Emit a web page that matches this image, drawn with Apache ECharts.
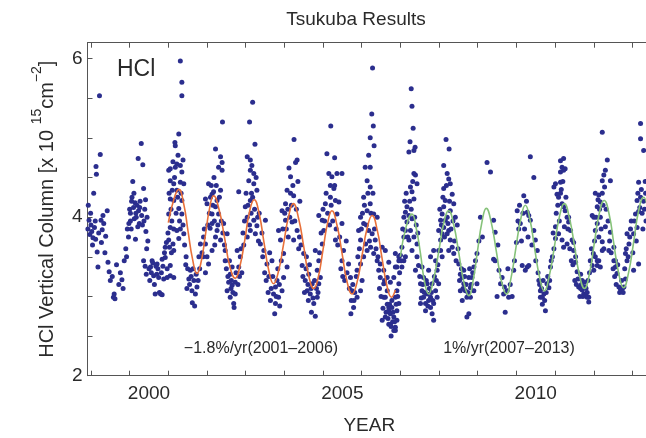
<!DOCTYPE html>
<html>
<head>
<meta charset="utf-8">
<script src="https://cdn.jsdelivr.net/npm/echarts@6/dist/echarts.min.js"></script>
<style>
html,body{margin:0;padding:0;background:#fff;}
#c{width:646px;height:438px;}
</style>
</head>
<body>
<div id="c"></div>
<script>
// ---- Data: [decimal year, HCl column (1e15 cm^-2)] ----
const obs1999 = [[1998.92,3.85],[1998.93,4.15],[1998.95,3.96],[1998.97,3.78],[1999.00,3.90],[1999.02,3.82],[1999.05,3.74],[1999.07,4.30],[1999.09,3.87],[1999.11,3.95],[1999.13,4.64],[1999.14,4.54],[1999.16,3.56],[1999.18,3.37],[1999.20,3.80],[1999.22,5.53],[1999.24,4.79],[1999.26,3.96],[1999.29,3.84],[1999.33,3.92],[1999.38,3.76],[1999.42,4.08],[1999.44,3.43],[1999.47,3.31],[1999.58,2.99],[1999.60,3.03],[1999.62,2.97],[1999.72,3.15],[1999.80,3.21],[1999.86,3.45],[1999.92,3.50],[1999.97,3.75],
  [1998.99,4.05],[1999.04,3.65],[1999.12,3.72],[1999.27,3.68],[1999.31,4.02],[1999.36,3.55],[1999.50,3.20],[1999.55,3.25],[1999.66,3.40],[1999.76,3.30],[1999.83,3.10],[1999.90,3.60],[1999.94,3.85]];
const obs2000 = [[1999.98,3.92],[2000.00,4.10],[2000.02,4.05],[2000.04,3.85],[2000.06,4.25],[2000.08,4.45],[2000.10,4.12],[2000.12,3.98],[2000.14,4.18],[2000.15,3.72],[2000.17,4.00],[2000.19,4.15],[2000.22,4.74],[2000.23,4.08],[2000.25,3.92],[2000.27,4.20],[2000.30,4.93],[2000.31,4.02],[2000.34,4.66],[2000.36,4.36],[2000.37,3.95],[2000.39,4.10],[2000.36,3.45],[2000.40,3.38],[2000.42,3.82],[2000.43,3.28],[2000.45,4.00],[2000.47,3.70],[2000.50,3.35],[2000.54,3.37],[2000.58,3.45],[2000.62,3.26],[2000.66,3.03],[2000.68,3.38],[2000.71,3.41],[2000.75,3.24],[2000.77,3.05],[2000.80,3.03],[2000.84,3.47],[2000.84,3.02],[2000.88,3.22],[2000.92,3.62],[2000.92,3.49],[2000.95,3.68],[2000.97,3.35],[2000.97,3.24],
  [2000.02,3.95],[2000.05,4.20],[2000.11,4.30],[2000.16,4.05],[2000.21,3.88],[2000.26,4.12],[2000.33,3.90],[2000.41,4.22],[2000.44,3.60],[2000.52,3.20],[2000.56,3.30],[2000.60,3.42],[2000.64,3.15],[2000.70,3.28],[2000.73,3.35],[2000.82,3.30],[2000.86,3.38],[2000.90,3.55],[2000.99,3.80]];
const obs2001 = [[2001.01,4.59],[2001.05,4.61],[2001.18,4.63],[2001.22,4.67],[2001.31,4.65],[2001.35,4.57],[2001.05,4.46],[2001.14,4.42],[2001.31,4.44],[2001.40,4.42],[2001.10,4.34],[2001.22,4.34],[2001.05,4.23],[2001.14,4.21],[2001.35,4.21],[2001.27,4.11],[2001.01,4.04],[2001.05,3.87],[2001.14,3.85],[2001.22,3.83],[2001.31,3.85],[2001.35,4.04],[2001.40,3.79],[2001.27,3.73],[2001.01,3.71],[2001.14,3.58],[2001.05,3.39],[2001.14,3.24],[2001.05,3.26],[2001.03,3.62],[2001.08,3.55],[2001.12,3.66],[2001.31,5.97],[2001.35,5.70],[2001.35,5.53],[2001.27,5.05],[2001.17,4.94],[2001.18,4.90],[2001.25,4.78],[2001.12,4.70],[2001.38,4.72],[2001.66,3.20],[2001.74,3.12],[2001.70,3.03],[2001.61,3.07],[2001.48,3.10],[2001.53,3.22],[2001.79,3.50],[2001.83,3.66],[2001.91,3.75],[2001.96,3.66],[2002.00,3.50],[2002.04,3.41],[2001.96,3.30],[2001.45,3.40],[2001.57,3.33],[2001.62,2.92],[2001.68,2.88],
  [2001.02,4.30],[2001.07,4.10],[2001.09,3.95],[2001.16,4.50],[2001.20,4.05],[2001.24,4.25],[2001.29,3.95],[2001.33,4.30],[2001.38,3.90],[2001.42,3.65],[2001.46,3.50],[2001.50,3.35],[2001.55,3.15],[2001.59,3.25],[2001.64,3.35],[2001.72,3.28],[2001.77,3.20],[2001.81,3.35],[2001.87,3.55],[2001.90,3.50],[2001.93,3.85]];
const obs2002 = [[2002.13,4.04],[2002.09,4.25],[2002.13,4.29],[2002.17,4.32],[2002.26,4.21],[2002.22,4.13],[2002.30,4.04],[2002.26,3.83],[2002.22,3.75],[2002.35,3.71],[2002.13,3.92],[2002.13,3.58],[2002.35,4.76],[2002.39,4.69],[2002.30,4.63],[2002.39,4.59],[2001.96,4.23],[2002.00,4.17],[2002.04,4.42],[2002.35,4.34],[2002.43,3.92],[2002.52,3.79],[2002.47,3.58],[2002.47,3.45],[2002.65,3.37],[2002.60,3.28],[2002.56,3.18],[2002.52,3.07],[2002.60,2.99],[2002.69,2.91],[2002.73,3.03],[2002.65,3.14],[2002.73,3.18],[2002.82,3.37],[2002.86,3.50],[2002.78,3.58],[2002.82,4.32],[2002.40,5.20],[2002.22,4.86],[2002.18,4.50],[2002.08,3.86],[2002.20,3.65],[2002.70,2.86],[2002.62,3.10],[2002.90,3.30],[2002.95,3.65],
  [2002.02,3.90],[2002.06,4.05],[2002.11,4.40],[2002.15,4.15],[2002.19,3.95],[2002.24,4.40],[2002.28,3.90],[2002.32,4.25],[2002.37,3.95],[2002.41,3.80],[2002.45,3.65],[2002.50,3.35],[2002.54,3.25],[2002.58,3.45],[2002.63,3.20],[2002.67,3.05],[2002.75,3.30],[2002.80,3.15],[2002.84,3.25],[2002.88,3.60],[2002.93,3.80],[2002.97,3.95]];
const obs2003 = [[2003.04,4.76],[2003.12,4.72],[2003.16,4.65],[2003.12,4.59],[2003.21,4.55],[2003.08,4.46],[2003.21,4.42],[2003.29,4.34],[2003.12,4.21],[2002.99,4.13],[2003.04,4.00],[2003.21,3.96],[2003.29,3.89],[2003.12,3.83],[2003.25,3.79],[2003.04,3.75],[2003.38,3.66],[2003.51,3.96],[2003.47,3.58],[2003.55,3.41],[2003.68,3.45],[2003.81,3.20],[2003.77,3.12],[2003.72,3.03],[2003.77,2.91],[2003.85,2.99],[2003.94,3.07],[2003.98,3.24],[2003.90,3.71],[2003.85,3.83],[2003.94,4.08],[2003.98,3.54],[2003.18,5.45],[2003.10,5.20],[2003.24,4.92],[2003.15,4.30],[2003.35,4.05],[2003.60,3.25],[2003.66,3.10],[2003.75,2.78],[2003.88,2.88],[2003.62,3.55],
  [2003.01,4.30],[2003.06,4.15],[2003.10,3.90],[2003.14,4.05],[2003.18,4.25],[2003.23,4.10],[2003.27,4.50],[2003.31,4.00],[2003.33,3.70],[2003.42,3.80],[2003.44,3.50],[2003.49,3.30],[2003.53,3.20],[2003.58,3.05],[2003.64,2.95],[2003.70,3.25],[2003.79,3.00],[2003.83,3.35],[2003.87,3.15],[2003.92,3.45],[2003.96,3.85]];
const obs2004 = [[2004.07,3.37],[2004.03,4.17],[2004.07,4.34],[2004.16,4.30],[2004.24,4.27],[2004.16,4.51],[2004.33,4.72],[2004.29,4.69],[2004.03,3.96],[2004.20,3.94],[2004.33,3.83],[2004.24,3.71],[2004.37,3.60],[2004.50,3.54],[2004.46,3.39],[2004.63,3.28],[2004.54,3.20],[2004.72,3.16],[2004.59,3.07],[2004.67,3.03],[2004.76,2.91],[2004.85,2.99],[2004.89,3.16],[2004.93,3.24],[2004.85,3.33],[2004.89,3.45],[2004.80,3.58],[2004.98,3.66],[2004.98,3.96],[2004.89,4.02],[2004.25,4.98],[2004.12,4.62],[2004.40,4.20],[2004.70,2.80],[2004.62,2.95],[2004.10,3.75],[2004.56,3.35],[2004.80,2.75],
  [2004.01,4.05],[2004.05,3.85],[2004.09,4.10],[2004.14,4.00],[2004.18,4.15],[2004.22,4.40],[2004.27,3.95],[2004.31,4.10],[2004.35,4.45],[2004.39,3.75],[2004.43,3.65],[2004.48,3.25],[2004.52,3.05],[2004.57,3.50],[2004.61,3.15],[2004.65,3.40],[2004.69,3.10],[2004.74,2.98],[2004.78,3.20],[2004.83,3.10],[2004.87,3.05],[2004.91,3.55],[2004.95,3.80]];
const obs2005 = [[2005.02,3.83],[2005.06,4.17],[2005.19,4.25],[2005.32,4.21],[2005.41,4.19],[2005.19,4.40],[2005.23,4.51],[2005.15,4.55],[2005.36,4.55],[2005.49,4.55],[2005.28,4.36],[2005.36,4.04],[2005.49,3.92],[2005.32,3.71],[2005.53,3.58],[2005.49,3.45],[2005.66,3.41],[2005.71,3.24],[2005.75,3.07],[2005.79,2.86],[2005.88,2.99],[2005.97,3.07],[2005.88,3.33],[2005.97,3.41],[2005.97,3.71],[2005.92,3.83],[2005.97,4.00],[2005.20,5.15],[2005.10,4.80],[2005.30,4.75],[2005.60,3.70],[2005.80,2.95],[2005.72,2.78],
  [2005.00,4.10],[2005.04,3.95],[2005.08,4.30],[2005.12,4.05],[2005.17,3.90],[2005.21,4.15],[2005.25,3.95],[2005.30,4.40],[2005.34,3.85],[2005.38,3.65],[2005.43,3.75],[2005.46,3.35],[2005.51,3.25],[2005.56,3.20],[2005.62,3.30],[2005.68,3.10],[2005.73,2.95],[2005.77,3.15],[2005.82,3.05],[2005.86,3.25],[2005.90,3.50],[2005.94,3.60],[2005.99,3.85]];
const obs2006 = [[2006.05,3.50],[2006.10,3.66],[2006.05,3.92],[2006.14,4.08],[2006.22,4.17],[2006.31,4.04],[2006.40,4.00],[2006.18,3.83],[2006.27,3.79],[2006.23,3.62],[2006.14,3.58],[2006.31,3.54],[2006.40,3.45],[2006.44,3.33],[2006.48,3.24],[2006.57,3.16],[2006.66,3.07],[2006.61,2.99],[2006.70,2.86],[2006.74,2.78],[2006.83,2.74],[2006.91,2.82],[2006.96,2.91],[2006.74,2.65],[2006.87,2.57],[2006.91,2.70],[2006.09,4.63],[2006.22,4.63],[2006.14,4.46],[2006.22,4.38],[2006.05,4.25],[2006.35,3.71],[2006.53,3.62],[2006.61,3.58],[2006.70,3.43],[2006.87,3.37],[2006.96,3.50],[2006.01,3.20],[2006.28,5.88],[2006.26,5.30],[2006.30,5.15],[2006.22,5.00],[2006.32,4.90],[2006.18,4.78],[2006.57,2.99],[2006.66,2.90],[2006.70,2.82],[2006.78,2.86],[2006.61,2.74],[2006.70,2.65],[2006.87,2.61],[2006.53,2.70],[2006.78,2.95],[2006.87,2.99],[2006.91,3.07],[2006.96,3.16],[2006.83,3.24],[2006.74,3.18],[2006.66,3.24],[2006.57,3.33],[2006.48,3.41],[2006.91,3.37],[2006.96,3.45],[2006.87,3.54],[2006.83,2.57],[2006.76,2.50],[2006.80,2.68],
  [2006.02,4.05],[2006.07,4.15],[2006.12,3.90],[2006.16,4.30],[2006.20,3.70],[2006.24,4.05],[2006.29,4.30],[2006.33,3.85],[2006.37,3.60],[2006.42,3.50],[2006.46,3.10],[2006.50,3.00],[2006.55,2.85],[2006.59,3.20],[2006.63,2.80],[2006.68,2.72],[2006.72,2.90],[2006.76,2.62],[2006.81,2.80],[2006.85,2.68],[2006.89,2.90],[2006.93,3.00],[2006.98,3.30]];
const obs2007 = [[2007.00,3.52],[2007.04,3.62],[2007.09,3.75],[2007.13,3.83],[2007.17,3.94],[2007.22,4.02],[2007.30,3.98],[2007.13,4.06],[2007.17,4.13],[2007.35,4.23],[2007.30,4.32],[2007.26,4.38],[2007.43,4.42],[2007.39,4.53],[2007.35,4.55],[2007.22,4.82],[2007.35,4.84],[2007.09,4.00],[2007.26,3.83],[2007.35,3.75],[2007.43,3.66],[2007.22,3.71],[2007.30,3.58],[2007.13,3.50],[2007.43,3.50],[2007.47,3.39],[2007.39,3.33],[2007.04,3.37],[2007.09,3.45],[2007.28,5.62],[2007.30,5.40],[2007.33,5.12],[2007.25,4.95],[2007.38,4.88],[2007.52,3.16],[2007.56,3.07],[2007.60,2.99],[2007.65,2.91],[2007.69,3.03],[2007.73,2.95],[2007.78,2.86],[2007.82,2.78],[2007.86,2.70],[2007.78,2.99],[2007.69,3.16],[2007.60,3.24],[2007.56,3.37],[2007.73,3.33],[2007.82,3.16],[2007.91,3.07],[2007.95,2.99],[2007.52,2.91],[2007.65,2.82],[2007.86,2.91],[2007.99,3.16],[2007.95,3.33],[2007.91,3.45],[2007.99,3.58],[2007.86,3.58],[2007.78,3.50],
  [2007.02,3.45],[2007.06,3.85],[2007.11,4.20],[2007.15,4.30],[2007.19,3.75],[2007.24,4.20],[2007.28,4.10],[2007.32,4.45],[2007.37,4.00],[2007.41,3.90],[2007.45,3.80],[2007.50,3.25],[2007.54,2.98],[2007.58,3.15],[2007.62,3.05],[2007.67,3.20],[2007.71,2.88],[2007.75,3.10],[2007.80,3.05],[2007.84,2.95],[2007.88,3.25],[2007.93,3.20],[2007.97,3.40]];
const obs2008 = [[2008.04,3.71],[2008.08,3.79],[2008.12,3.87],[2008.16,3.96],[2008.21,3.79],[2008.25,3.83],[2008.29,3.71],[2007.99,3.83],[2008.04,3.96],[2008.08,4.04],[2008.12,4.13],[2008.16,4.21],[2008.21,4.00],[2008.29,4.08],[2008.34,4.29],[2008.12,4.36],[2008.29,4.42],[2008.25,4.48],[2008.21,4.55],[2008.12,4.65],[2008.38,4.17],[2008.42,4.00],[2008.47,3.90],[2008.34,3.62],[2008.38,3.54],[2008.04,3.58],[2008.25,3.58],[2008.08,3.50],[2008.18,4.98],[2008.26,4.86],[2008.51,3.41],[2008.55,3.28],[2008.60,3.24],[2008.64,3.16],[2008.68,3.07],[2008.72,2.99],[2008.77,3.24],[2008.81,3.11],[2008.85,3.24],[2008.90,3.37],[2008.94,3.45],[2008.98,3.54],[2008.55,3.07],[2008.64,3.33],[2008.72,2.74],[2008.77,2.78],[2008.60,2.95],[2008.81,2.99],[2008.90,3.07],[2008.98,3.16],
  [2008.02,4.10],[2008.06,3.90],[2008.10,4.25],[2008.14,3.75],[2008.19,4.40],[2008.23,3.92],[2008.27,4.20],[2008.31,3.85],[2008.36,3.95],[2008.40,3.70],[2008.44,3.45],[2008.49,3.60],[2008.53,3.20],[2008.58,3.35],[2008.62,3.10],[2008.66,3.25],[2008.70,3.15],[2008.75,3.05],[2008.79,3.35],[2008.83,3.15],[2008.87,3.30]];
const obs2009 = [[2009.07,4.00],[2009.12,3.75],[2009.24,4.69],[2009.33,4.57],[2009.41,3.96],[2009.45,3.81],[2009.41,3.47],[2009.45,3.45],[2009.55,3.33],[2009.59,3.16],[2009.67,3.03],[2009.71,2.80],[2009.76,3.07],[2009.80,2.99],[2009.89,3.00],[2009.63,3.24],[2009.50,3.00],
  [2009.03,3.70],[2009.52,3.65],[2009.69,3.12],[2009.78,3.35],[2009.84,3.15],[2009.95,3.45]];
const obs2010 = [[2009.93,3.33],[2010.00,3.68],[2010.06,3.85],[2010.10,3.92],[2010.02,4.08],[2010.19,4.27],[2010.28,4.06],[2010.36,4.76],[2010.45,4.50],[2010.32,4.02],[2010.36,3.96],[2010.45,3.83],[2010.49,3.71],[2010.54,3.58],[2010.32,3.39],[2010.28,3.37],[2010.15,3.39],[2010.23,3.33],[2010.58,3.20],[2010.62,3.07],[2010.67,2.99],[2010.71,3.03],[2010.75,2.82],[2010.79,3.16],[2010.84,3.11],[2010.88,3.37],[2010.93,3.50],[2010.97,3.60],[2011.01,3.73],[2010.67,2.90],[2010.62,2.99],
  [2010.04,3.95],[2010.08,4.15],[2010.13,3.70],[2010.17,4.05],[2010.21,3.85],[2010.26,4.20],[2010.30,3.75],[2010.40,3.65],[2010.50,3.45],[2010.56,3.30],[2010.60,3.15],[2010.65,3.10],[2010.69,3.20],[2010.73,2.95],[2010.77,3.05],[2010.81,3.25],[2010.86,3.20],[2010.90,3.45],[2010.95,3.80]];
const obs2011 = [[2010.97,4.38],[2011.01,4.42],[2011.05,4.29],[2011.14,4.57],[2011.18,4.63],[2011.22,4.74],[2011.26,4.61],[2011.09,4.25],[2011.18,4.17],[2011.22,4.13],[2011.26,4.08],[2011.31,4.00],[2011.01,3.88],[2011.09,3.79],[2011.18,3.71],[2011.22,3.62],[2011.35,3.94],[2011.40,3.83],[2011.44,3.71],[2011.48,3.58],[2011.53,3.50],[2011.14,4.71],[2011.22,4.59],[2011.14,4.44],[2011.14,4.30],[2011.35,4.00],[2011.48,3.68],[2011.31,3.66],[2011.53,3.43],[2011.57,3.31],[2011.61,3.12],[2011.66,3.10],[2011.74,3.03],[2011.83,2.99],[2011.78,3.12],[2011.87,2.99],[2011.70,3.08],[2011.91,3.45],[2011.96,3.39],[2012.00,3.33],[2012.09,3.39],[2012.13,3.45],[2012.22,3.58],[2011.99,3.54],[2012.04,3.50],[2011.66,3.28],[2011.70,3.20],[2011.79,3.03],[2011.83,3.05],[2011.87,2.93],
  [2011.03,4.05],[2011.07,4.15],[2011.11,3.95],[2011.16,4.35],[2011.20,4.45],[2011.24,3.88],[2011.28,4.25],[2011.33,3.85],[2011.38,3.60],[2011.42,3.45],[2011.46,3.40],[2011.51,3.20],[2011.55,3.15],[2011.59,3.22],[2011.64,3.00],[2011.68,3.15],[2011.72,3.00],[2011.76,3.18],[2011.80,3.10],[2011.85,3.20],[2011.89,3.30],[2011.94,3.60]];
const obs2012 = [[2012.22,5.07],[2012.35,4.72],[2012.30,4.59],[2012.26,4.53],[2012.22,4.46],[2012.43,4.46],[2012.04,4.30],[2012.13,4.28],[2012.22,4.30],[2012.17,4.19],[2012.09,4.13],[2011.96,4.02],[2012.00,4.00],[2012.17,4.00],[2012.09,3.92],[2012.04,3.83],[2012.13,3.75],[2012.22,3.69],[2012.30,3.88],[2012.43,3.81],[2012.39,3.58],[2012.26,3.60],[2012.56,3.37],[2012.60,3.29],[2012.65,3.12],[2012.69,3.10],[2012.74,3.10],[2012.78,3.12],[2012.82,3.22],[2012.86,3.45],[2012.82,3.54],[2012.91,3.66],[2012.86,3.79],[2012.95,3.85],[2012.52,3.45],[2012.70,3.08],[2012.52,3.62],[2012.56,3.45],[2012.17,3.37],[2012.09,3.45],
  [2012.02,3.70],[2012.06,4.00],[2012.11,4.22],[2012.15,4.10],[2012.19,3.85],[2012.24,4.15],[2012.28,4.38],[2012.32,4.10],[2012.37,3.95],[2012.41,3.70],[2012.45,3.55],[2012.50,3.35],[2012.54,3.25],[2012.58,3.15],[2012.62,3.40],[2012.67,3.05],[2012.72,3.20],[2012.76,3.05],[2012.80,3.35],[2012.84,3.60],[2012.89,3.50],[2012.93,3.75],[2012.97,3.95]];
const obs2013 = [[2013.03,3.79],[2013.12,3.87],[2013.16,4.07],[2013.08,4.04],[2013.12,4.21],[2013.21,4.25],[2013.16,4.44],[2013.21,4.99],[2013.21,5.18],[2013.16,3.41],[2013.03,3.33],[2013.29,4.20],[2013.25,4.05],[2013.29,4.84],[2013.33,4.45],[2013.35,3.95],
  [2013.01,3.55],[2013.05,3.95],[2013.10,3.70],[2013.14,4.30],[2013.19,4.12],[2013.23,4.35],[2013.27,3.85],[2013.31,4.10],[2013.34,4.30]];

// fitted seasonal curves
const fitDecline = [[2001.00,3.93],[2001.14,4.22],[2001.27,4.35],[2001.40,4.16],[2001.51,3.82],[2001.63,3.46],[2001.74,3.29],[2001.85,3.44],[2001.96,3.78],[2002.07,4.12],[2002.17,4.27],[2002.31,4.10],[2002.45,3.75],[2002.59,3.38],[2002.73,3.23],[2002.85,3.38],[2002.98,3.72],[2003.10,4.07],[2003.22,4.22],[2003.35,4.04],[2003.47,3.69],[2003.60,3.32],[2003.72,3.16],[2003.85,3.32],[2003.98,3.66],[2004.11,4.01],[2004.23,4.17],[2004.37,3.98],[2004.50,3.63],[2004.63,3.26],[2004.76,3.10],[2004.88,3.25],[2005.00,3.59],[2005.12,3.93],[2005.23,4.08],[2005.36,3.90],[2005.49,3.55],[2005.62,3.19],[2005.75,3.03],[2005.88,3.18],[2006.01,3.52],[2006.14,3.86],[2006.27,4.02],[2006.40,3.84],[2006.52,3.50],[2006.65,3.14],[2006.77,2.99],[2006.87,3.08]];
const fitRise = [[2007.00,3.50],[2007.15,3.88],[2007.30,4.04],[2007.41,3.86],[2007.52,3.54],[2007.62,3.20],[2007.73,3.03],[2007.86,3.22],[2007.99,3.56],[2008.12,3.92],[2008.25,4.08],[2008.38,3.90],[2008.51,3.55],[2008.64,3.18],[2008.77,3.01],[2008.88,3.20],[2008.99,3.56],[2009.11,3.94],[2009.22,4.11],[2009.35,3.93],[2009.48,3.57],[2009.61,3.20],[2009.74,3.03],[2009.86,3.23],[2009.98,3.59],[2010.11,3.97],[2010.23,4.15],[2010.35,3.97],[2010.47,3.61],[2010.60,3.24],[2010.72,3.07],[2010.85,3.26],[2010.98,3.62],[2011.11,4.00],[2011.24,4.17],[2011.37,3.99],[2011.50,3.64],[2011.63,3.27],[2011.76,3.10],[2011.89,3.29],[2012.01,3.66],[2012.14,4.04],[2012.27,4.21],[2012.40,4.03],[2012.52,3.66],[2012.65,3.28],[2012.77,3.11],[2012.90,3.30],[2013.03,3.68],[2013.16,4.08],[2013.29,4.25],[2013.40,4.10]];

// axis ticks / labels
const yearTicks = [1999,2000,2001,2002,2003,2004,2005,2006,2007,2008,2009,2010,2011,2012,2013];
const yearLabels = [2000, 2005, 2010];
const valueLabels = [2, 4, 6];

const titleText = 'Tsukuba Results';
const panelLabel = 'HCl';
const trendLabel1 = '\u22121.8%/yr(2001\u20132006)';
const trendLabel2 = '1%/yr(2007\u20132013)';

const allObs = [].concat(obs1999,obs2000,obs2001,obs2002,obs2003,obs2004,obs2005,obs2006,obs2007,obs2008,obs2009,obs2010,obs2011,obs2012,obs2013);

const FONT = '"Liberation Sans", Arial, Helvetica, sans-serif';
const AX = '#555';
const TXT = '#2a2a2a';
const X_MIN = 1998.91, X_MAX = 2013.48;

const chart = echarts.init(document.getElementById('c'), null, {renderer: 'canvas'});
chart.setOption({
  animation: false,
  backgroundColor: '#fff',
  textStyle: {fontFamily: FONT},
  grid: {left: 87.5, top: 42.7, width: 563.5, height: 333, containLabel: false, outerBoundsMode: 'none'},
  xAxis: [{
    type: 'value', position: 'bottom', min: X_MIN, max: X_MAX,
    name: 'YEAR', nameLocation: 'middle', nameGap: 41,
    nameTextStyle: {fontSize: 19, color: TXT, fontFamily: FONT},
    axisLine: {show: true, onZero: false, lineStyle: {color: AX, width: 1}},
    axisTick: {show: true, inside: true, length: 5, customValues: yearTicks, lineStyle: {color: AX}},
    axisLabel: {show: true, margin: 9, fontSize: 19, color: TXT, fontFamily: FONT,
      customValues: yearLabels.map(v => v + 0.5), formatter: v => String(Math.floor(v))},
    splitLine: {show: false}
  }, {
    type: 'value', position: 'top', min: X_MIN, max: X_MAX,
    axisLine: {show: true, onZero: false, lineStyle: {color: AX, width: 1}},
    axisTick: {show: true, inside: true, length: 5, customValues: yearTicks, lineStyle: {color: AX}},
    axisLabel: {show: false},
    splitLine: {show: false}
  }],
  yAxis: {
    type: 'value', min: 2, max: 6.2, interval: 0.5,
    name: '{t|HCl Vertical Column [x 10 }{s|15}{t|cm}{s|\u22122}{t|]}',
    nameLocation: 'middle', nameRotate: 90, nameGap: 30,
    nameTextStyle: {
      color: TXT, fontFamily: FONT,
      rich: {
        t: {fontSize: 20, color: TXT, fontFamily: FONT, lineHeight: 27, verticalAlign: 'bottom'},
        s: {fontSize: 14, color: TXT, fontFamily: FONT, lineHeight: 27, verticalAlign: 'top'}
      }
    },
    axisLine: {show: true, onZero: false, lineStyle: {color: AX, width: 1}},
    axisTick: {show: true, inside: true, length: 5, lineStyle: {color: AX}},
    axisLabel: {show: true, margin: 5, fontSize: 19, color: TXT, fontFamily: FONT, customValues: valueLabels},
    splitLine: {show: false}
  },
  graphic: [
    {type: 'text', x: 356, y: 10, style: {text: titleText, fontSize: 19, fontFamily: FONT, fill: TXT, align: 'center', textAlign: 'center'}},
    {type: 'text', x: 117, y: 58, style: {text: panelLabel, fontSize: 23, fontFamily: FONT, fill: TXT}},
    {type: 'text', x: 261, y: 341, style: {text: trendLabel1, fontSize: 16, fontFamily: FONT, fill: TXT, align: 'center', textAlign: 'center'}},
    {type: 'text', x: 509, y: 341, style: {text: trendLabel2, fontSize: 16, fontFamily: FONT, fill: TXT, align: 'center', textAlign: 'center'}}
  ],
  series: [
    {type: 'scatter', data: allObs, symbol: 'circle', symbolSize: 5,
     itemStyle: {color: '#2b2e8e', opacity: 1}, z: 2, silent: true},
    {type: 'line', data: fitDecline, smooth: 0.5, showSymbol: false,
     lineStyle: {color: '#e8703a', width: 1.6}, z: 3, silent: true},
    {type: 'line', data: fitRise, smooth: 0.5, showSymbol: false,
     lineStyle: {color: '#86c27a', width: 1.6}, z: 3, silent: true}
  ]
});
</script>
</body>
</html>
